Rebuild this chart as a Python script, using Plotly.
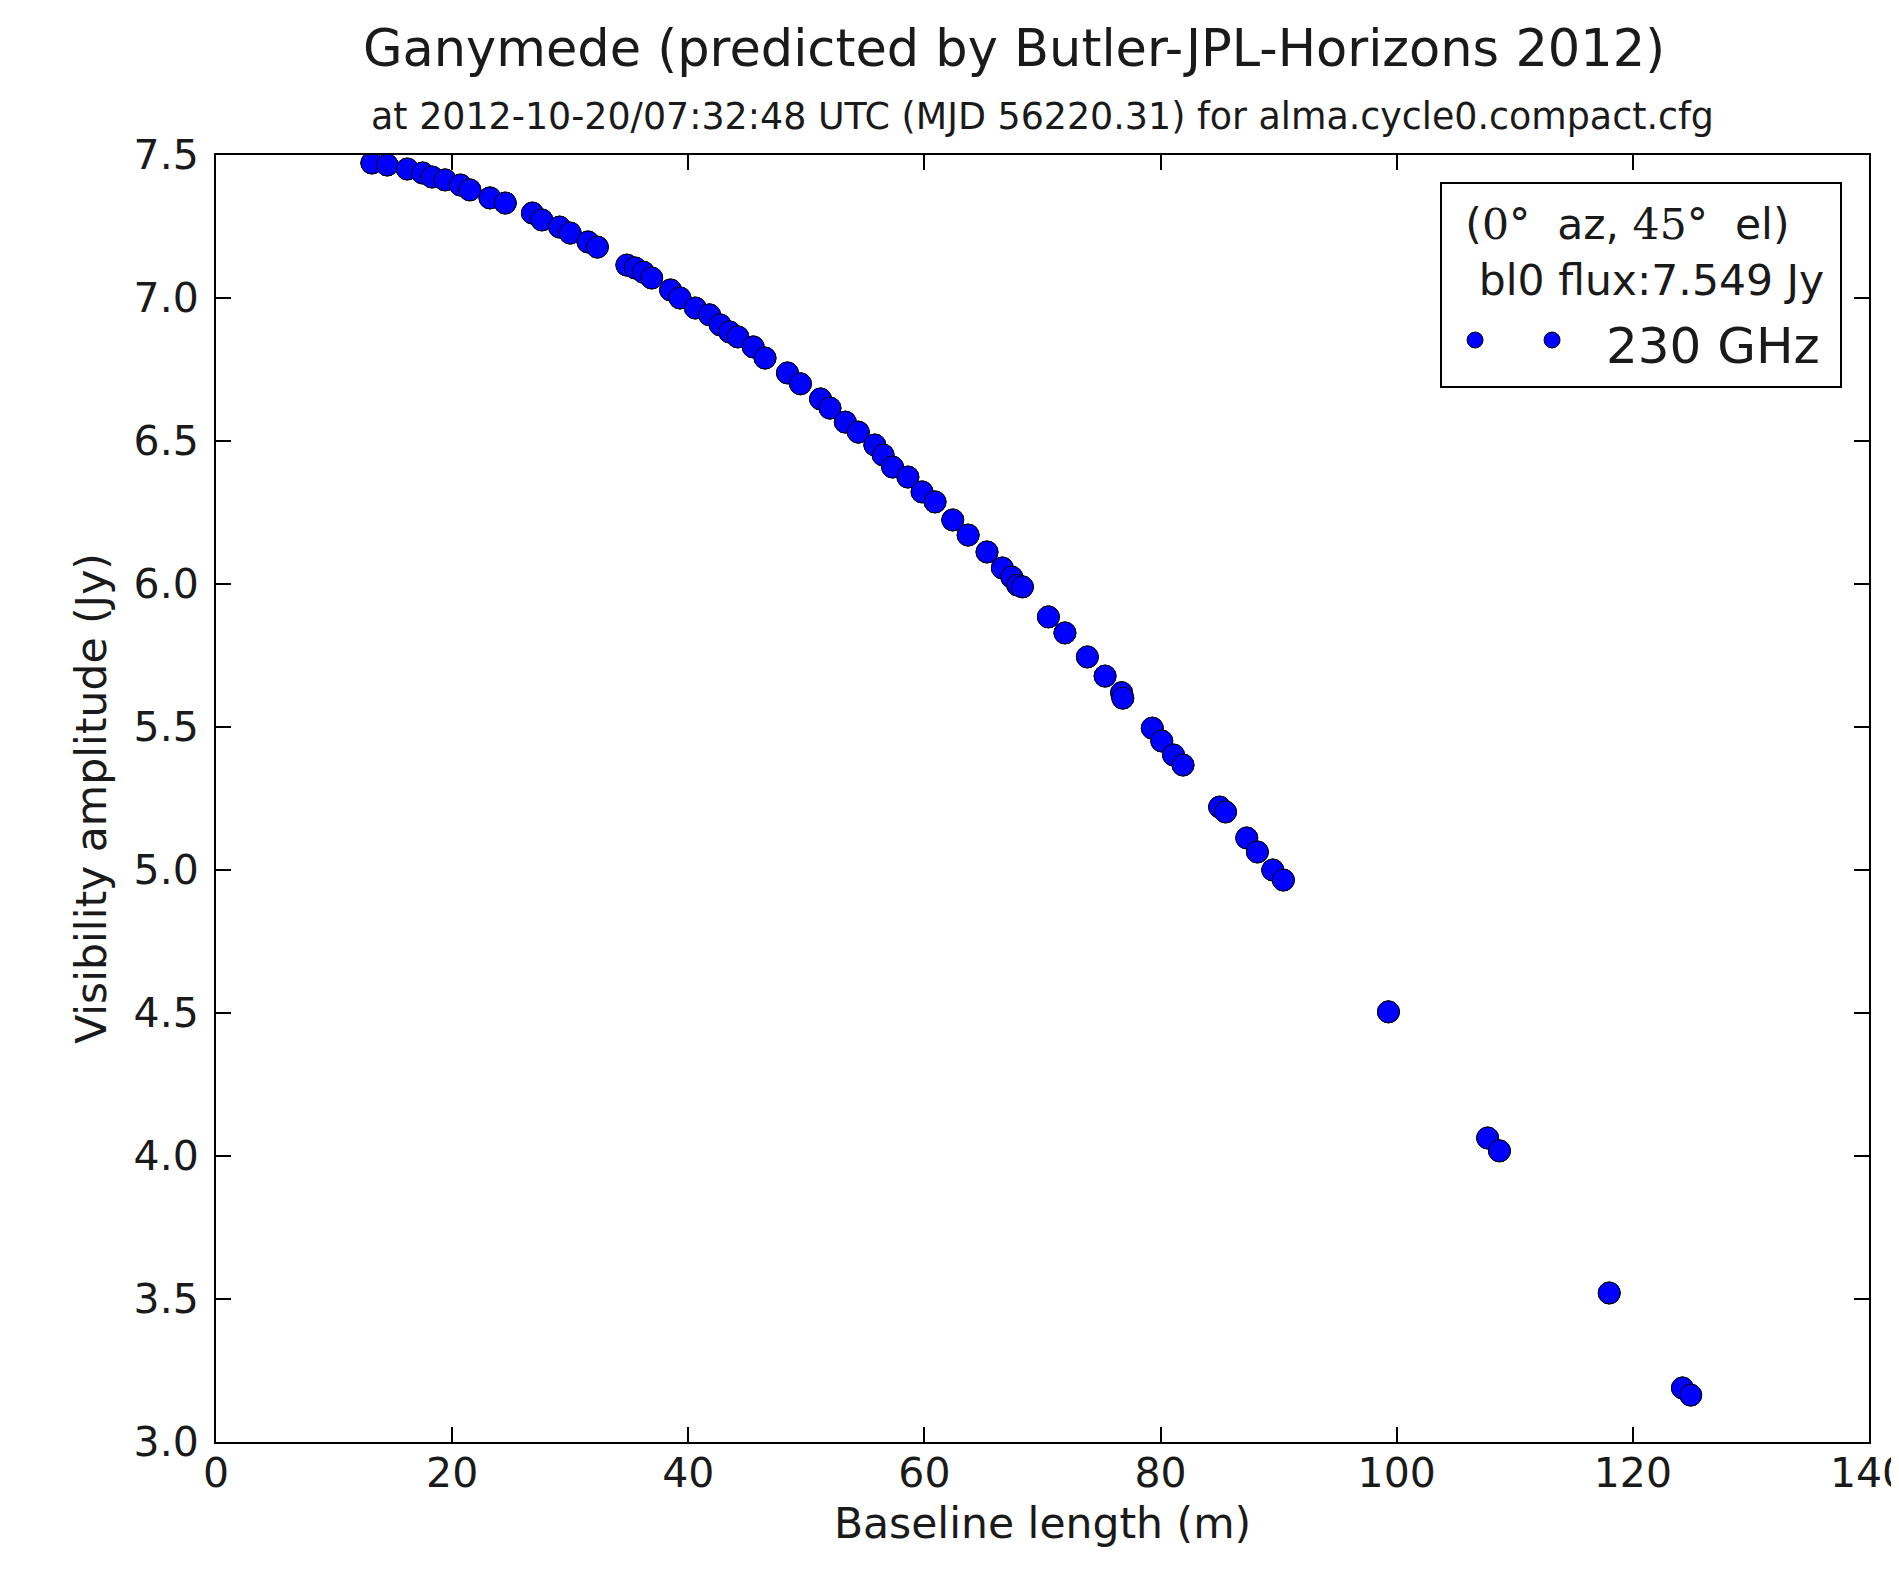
import plotly.graph_objects as go

# Baseline length (m) and visibility amplitude (Jy)
baseline_m = [13.2, 14.5, 16.2, 17.5, 18.3, 19.4, 20.7, 21.5, 23.2, 24.5,
              26.8, 27.6, 29.1, 30.0, 31.5, 32.3, 34.8, 35.5, 36.2, 36.9,
              38.5, 39.3, 40.6, 41.8, 42.7, 43.5, 44.2, 45.5, 46.5, 48.4,
              49.5, 51.2, 52.0, 53.3, 54.4, 55.8, 56.5, 57.3, 58.6, 59.8,
              60.9, 62.4, 63.7, 65.3, 66.6, 67.4, 67.9, 68.3, 70.5, 71.9,
              73.8, 75.3, 76.7, 76.8, 79.3, 80.1, 81.1, 81.9, 85.0, 85.5,
              87.3, 88.2, 89.5, 90.4, 99.3, 107.7, 108.7, 118.0, 124.2, 124.9]
amplitude_jy = [7.472, 7.465, 7.451, 7.437, 7.423, 7.413, 7.395, 7.378, 7.350, 7.332,
                7.297, 7.273, 7.248, 7.227, 7.196, 7.178, 7.115, 7.105, 7.090, 7.070,
                7.028, 7.000, 6.965, 6.941, 6.906, 6.881, 6.864, 6.829, 6.790, 6.738,
                6.700, 6.647, 6.615, 6.566, 6.531, 6.486, 6.451, 6.409, 6.374, 6.322,
                6.287, 6.224, 6.171, 6.112, 6.056, 6.024, 5.996, 5.990, 5.885, 5.829,
                5.745, 5.678, 5.620, 5.601, 5.496, 5.451, 5.402, 5.367, 5.220, 5.203,
                5.112, 5.063, 5.000, 4.965, 4.504, 4.063, 4.018, 3.521, 3.189, 3.164]

x_ticks = [0, 20, 40, 60, 80, 100, 120, 140]
y_ticks = [3.0, 3.5, 4.0, 4.5, 5.0, 5.5, 6.0, 6.5, 7.0, 7.5]
y_tick_labels = ["3.0", "3.5", "4.0", "4.5", "5.0", "5.5", "6.0", "6.5", "7.0", "7.5"]

title_text = "Ganymede (predicted by Butler-JPL-Horizons 2012)"
subtitle_text = "at 2012-10-20/07:32:48 UTC (MJD 56220.31) for alma.cycle0.compact.cfg"
series_label = "230 GHz"
legend_line1 = ("\u2002(<span style='font-family:DejaVu Serif'>0°</span>  az, "
                "<span style='font-family:DejaVu Serif'>45°</span>  el)")
legend_line2 = "\u2002\u00a0bl0 flux:7.549 Jy\u00a0"

FONT = "DejaVu Sans"
TXT = "#1a1a1a"
BLUE = "#0000ff"

marker_style = dict(color=BLUE, size=22, line=dict(color="black", width=1))

fig = go.Figure()
# The matplotlib legend shows the marker twice (numpoints=2): the series is drawn
# as two identical overlapping layers so the legend carries two marker symbols.
fig.add_trace(go.Scatter(
    x=baseline_m, y=amplitude_jy, mode="markers", name="\u200a",
    marker=marker_style, hoverinfo="skip",
))
fig.add_trace(go.Scatter(
    x=baseline_m, y=amplitude_jy, mode="markers",
    name="<span style='font-size:50px'>\u00a0\u200a%s</span>" % series_label,
    marker=marker_style,
))

axis_common = dict(
    showgrid=False, zeroline=False, showline=True, linecolor="black", linewidth=2,
    mirror="allticks", ticks="inside", ticklen=15, tickwidth=1.5, tickcolor="black",
    tickfont=dict(family=FONT, size=41, color=TXT), automargin=False,
)

fig.update_layout(
    width=1899, height=1569,
    margin=dict(l=208, r=38, t=147, b=135),
    paper_bgcolor="white", plot_bgcolor="white",
    font=dict(family=FONT, color=TXT),
    title=dict(text=title_text, xref="paper", x=0.4828, xanchor="center",
               y=1 - 40 / 1569, yanchor="middle",
               font=dict(family=FONT, size=51, color=TXT)),
    xaxis=dict(range=[0, 140], tickvals=x_ticks, ticklabeloverflow="allow",
               title=dict(text="Baseline length (m)", font=dict(family=FONT, size=42.5, color=TXT), standoff=12),
               ticklabelstandoff=-6, **axis_common),
    yaxis=dict(range=[3.0, 7.5], tickvals=y_ticks, ticktext=y_tick_labels,
               title=dict(text="Visibility amplitude (Jy)", font=dict(family=FONT, size=42.5, color=TXT), standoff=14),
               ticklabelstandoff=7, **axis_common),
    showlegend=True,
    legend=dict(
        orientation="h", itemwidth=56,
        x=0.9837, xanchor="right", y=0.979, yanchor="top",
        bgcolor="white", bordercolor="black", borderwidth=2,
        title=dict(text=legend_line1 + "<br>" + legend_line2, side="top",
                   font=dict(family=FONT, size=42.5, color=TXT)),
        font=dict(family=FONT, size=60, color=TXT),
    ),
    annotations=[dict(
        text=subtitle_text, xref="paper", yref="paper", x=0.5, y=1 + (155 - 117) / 1287,
        xanchor="center", yanchor="middle", showarrow=False,
        font=dict(family=FONT, size=36.4, color=TXT),
    )],
)

fig.write_html("out.html")
